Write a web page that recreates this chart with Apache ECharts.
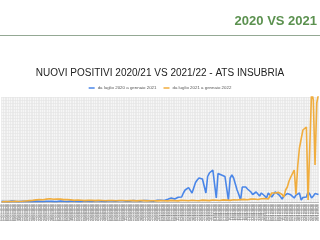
<!DOCTYPE html>
<html><head><meta charset="utf-8">
<script src="https://cdn.jsdelivr.net/npm/echarts@6/dist/echarts.min.js"></script>
<style>html,body{margin:0;padding:0;background:#fff}#c{width:320px;height:240px}</style>
</head><body><div id="c"></div>
<script>
const headerText = "2020 VS 2021";
const titleText = "NUOVI POSITIVI 2020/21 VS 2021/22 - ATS INSUBRIA";
const seriesNames = ["da luglio 2020 a gennaio 2021", "da luglio 2021 a gennaio 2022"];
const monthDays = [31, 31, 30, 31, 30, 31];
const monthNums = ["07", "08", "09", "10", "11", "12"];
const blue = [
 20,25,18,15,12,22,28,24,20,17,14,12,25,30,22,20,16,15,14,26,28,24,22,18,16,15,27,30,25,23,20,
 18,16,28,32,26,24,20,17,15,30,35,28,26,22,19,18,32,38,30,28,24,20,18,34,40,34,30,26,22,20,36,
 42,36,32,28,24,22,40,46,40,36,30,26,24,44,50,44,40,34,30,28,48,56,50,44,38,34,30,52,60,54,
 60,55,48,70,90,110,133,120,100,140,160,175,166,
 300,400,450,480,500,300,260,650,733,800,780,766,700,
 300,850,966,1000,1066,1100,133,950,1000,900,880,850,833,66,800,900,800,600,400,250,66,
 500,566,500,433,380,333,250,200,333,280,200,
 300,260,200,133,300,260,166,250,333,300,250,180,100,200,260,280,300,240,180,133,230,280,300,66,150,200,166,333,260,133,200,280,300,250
];
const orange = [
 10,12,15,14,12,10,18,20,22,20,18,15,25,30,35,40,45,
 60,55,50,70,80,85,90,75,70,95,100,110,105,90,80,100,105,95,90,80,70,85,80,70,
 60,55,50,65,70,60,55,45,40,55,60,55,50,45,40,55,58,52,48,42,38,50,55,50,45,40,36,48,52,48,44,40,36,46,50,46,42,38,35,45,50,46,42,38,36,44,48,44,40,36,34,45,
 48,44,40,36,50,55,50,46,42,38,52,56,52,48,44,40,55,60,56,50,46,42,58,62,58,54,50,46,60,66,62,58,54,50,66,70,66,62,58,54,70,76,72,
 66,62,80,90,86,80,74,70,95,105,100,92,86,80,110,125,118,110,100,130,
 300,310,300,280,320,333,250,166,400,500,700,833,950,1066,250,1200,1800,2100,2400,2450,2500,66,1900,3700,3400,1230,3300,3600
];
const categories = [];
monthDays.forEach((n, m) => { for (let d = 1; d <= n; d++) categories.push(String(d).padStart(2, "0") + "/" + monthNums[m] + "/2020"); });

const chart = echarts.init(document.getElementById('c'), null, {renderer: 'canvas'});
chart.setOption({
  animation: false,
  backgroundColor: '#ffffff',
  graphic: [
    {type: 'text', right: 3, top: 15, style: {text: headerText, font: 'bold 13px "Liberation Sans", Arial, sans-serif', fill: '#5b914f'}},
    {type: 'rect', left: 0, top: 35, shape: {width: 320, height: 1}, style: {fill: '#94a894'}}
  ],
  title: {text: titleText, left: 'center', top: 63, textStyle: {fontFamily: '"Liberation Sans", Arial, sans-serif', fontSize: 10, fontWeight: 'normal', color: '#222'}},
  legend: {top: 81, left: 'center', itemWidth: 6, itemHeight: 1.5, itemGap: 7, icon: 'rect',
    textStyle: {fontSize: 4.4, color: '#555', padding: [0, 0, 0, -2]}, data: seriesNames},
  grid: {left: 0, right: 0, top: 97, bottom: 38, show: true, backgroundColor: '#f6f6f6', borderWidth: 0},
  xAxis: {type: 'category', data: categories, boundaryGap: false,
    axisLine: {lineStyle: {color: '#bbb', width: 1}}, axisTick: {show: false},
    axisLabel: {interval: 0, rotate: 90, fontSize: 3.4, color: '#888', margin: 2},
    splitLine: {show: true, interval: 0, lineStyle: {color: '#e4e4e4', width: 0.6}}},
  yAxis: {type: 'value', min: 0, max: 3500, interval: 100,
    axisLabel: {show: false}, axisLine: {show: false}, axisTick: {show: false},
    splitLine: {show: true, lineStyle: {color: '#e4e4e4', width: 0.6}}},
  series: [
    {name: seriesNames[0], type: 'line', data: blue, symbol: 'none', clip: true, lineStyle: {color: '#4a86e8', width: 1.6}, itemStyle: {color: '#4a86e8'}},
    {name: seriesNames[1], type: 'line', data: orange, symbol: 'none', clip: true, lineStyle: {color: '#f0ad3e', width: 1.6}, itemStyle: {color: '#f0ad3e'}}
  ]
});
</script></body></html>
